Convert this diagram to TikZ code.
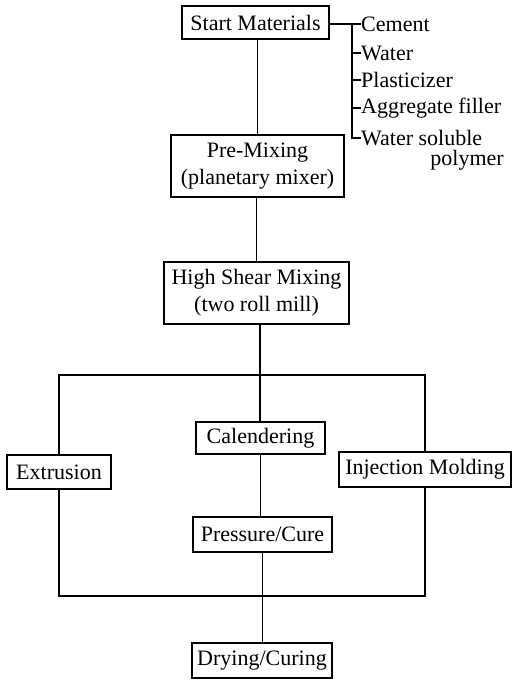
\documentclass[tikz,border=0pt]{standalone}
\usepackage{fontspec}
\setmainfont{Liberation Serif}
\begin{document}
\begin{tikzpicture}[x=1pt,y=-1pt,
  every node/.style={font=\fontsize{22}{27}\selectfont},
  box/.style={draw, line width=1.2pt, inner sep=0pt, align=center},
  item/.style={anchor=west, inner sep=0pt},
  conn/.style={line width=1.2pt}]
\useasboundingbox (0,0) rectangle (519,683);
% boxes
\node[box, minimum width=147pt, minimum height=33pt] (start) at (255.5,22.5) {Start Materials};
\node[box, minimum width=173pt, minimum height=62pt] (pre) at (257.5,166) {Pre-Mixing\\(planetary mixer)};
\node[box, minimum width=185pt, minimum height=62pt] (high) at (256.5,293) {High Shear Mixing\\(two roll mill)};
\node[box, minimum width=129pt, minimum height=32pt] (cal) at (260.5,438) {Calendering};
\node[box, minimum width=104pt, minimum height=34pt] (ext) at (59,472) {Extrusion};
\node[box, minimum width=172pt, minimum height=35pt] (inj) at (425,469.5) {Injection Molding};
\node[box, minimum width=139pt, minimum height=35pt] (pc) at (262.5,534.5) {Pressure/Cure};
\node[box, minimum width=140pt, minimum height=35pt] (dry) at (262,660.5) {Drying/Curing};
% side list
\coordinate (sv) at (352,24);
\coordinate (sb) at (352,138);
\node[item] (i1) at (361,24) {Cement};
\node[item] (i2) at (361,53) {Water};
\node[item] (i3) at (361,80) {Plasticizer};
\node[item] (i4) at (361,108) {Aggregate filler};
\node[item] (i5) at (361,138) {Water soluble};
\node[anchor=base east, inner sep=0pt] (i6) at (504,165) {polymer};
\draw[conn] (start.east |- sv) -- (sv) -- (sb) -- (i5.west);
\draw[conn] (sv) -- (i1.west);
\draw[conn] (sv |- i2.west) -- (i2.west);
\draw[conn] (sv |- i3.west) -- (i3.west);
\draw[conn] (sv |- i4.west) -- (i4.west);
% main flow
\draw[conn] (start.south -| pre.north) -- (pre.north);
\draw[conn] (pre.south -| high.north) -- (high.north);
\coordinate (tbar) at (260,375);
\coordinate (bbar) at (262,596);
\draw[conn] (high.south -| tbar) -- (tbar |- cal.north);
\draw[conn] (ext.north) |- (tbar) -| (inj.north);
\draw[conn] (cal.south) -- (cal.south |- pc.north);
\draw[conn] (ext.south) |- (bbar) -| (inj.south);
\draw[conn] (pc.south) -- (pc.south |- dry.north);
\end{tikzpicture}
\end{document}
